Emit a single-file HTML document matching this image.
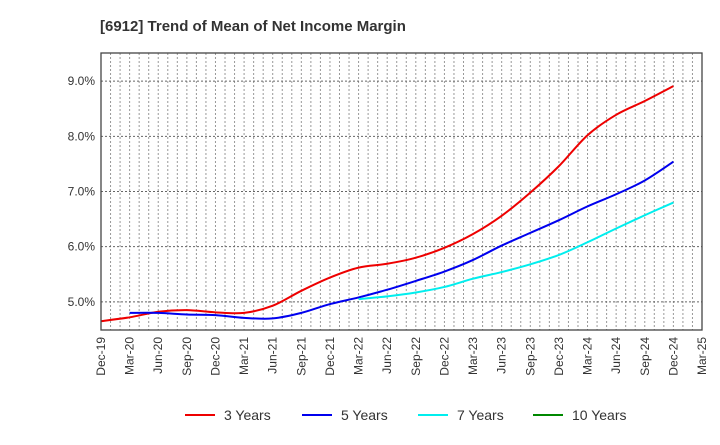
<!DOCTYPE html>
<html><head><meta charset="utf-8"><style>
body{margin:0;background:#fff;font-family:"Liberation Sans",sans-serif}
</style></head><body>
<svg width="720" height="440" xmlns="http://www.w3.org/2000/svg" id="chart">
<text x="100" y="31" font-size="15" font-weight="bold" fill="#333">[6912]  Trend of Mean of Net Income Margin</text>
<g id="grid"></g><g id="series"></g><g id="axes"></g><g id="legend"></g>
</svg>
<script>
const xLabels=["Dec-19","Mar-20","Jun-20","Sep-20","Dec-20","Mar-21","Jun-21","Sep-21","Dec-21","Mar-22","Jun-22","Sep-22","Dec-22","Mar-23","Jun-23","Sep-23","Dec-23","Mar-24","Jun-24","Sep-24","Dec-24","Mar-25"];
const yTicks=[5,6,7,8,9];
const s3=[4.65,4.72,4.82,4.85,4.81,4.80,4.93,5.20,5.44,5.62,5.69,5.80,5.98,6.23,6.56,6.98,7.46,8.02,8.39,8.64,8.91];
const s5=[null,4.80,4.80,4.77,4.76,4.71,4.70,4.80,4.96,5.08,5.22,5.38,5.55,5.76,6.02,6.25,6.48,6.73,6.95,7.20,7.54];
const s7=[null,null,null,null,null,null,null,null,null,5.05,5.10,5.17,5.27,5.42,5.54,5.68,5.85,6.08,6.33,6.57,6.80];
const s10=[];
const NS="http://www.w3.org/2000/svg";
const L=101,R=702,T=53,B=330,Y0=4.49,Y1=9.51;
const xq=i=>L+(R-L)*i/21;
const xm=m=>L+(R-L)*m/63;
const y=v=>B-(v-Y0)/(Y1-Y0)*(B-T);
function mk(t,a,p){const e=document.createElementNS(NS,t);for(const k in a)e.setAttribute(k,a[k]);p.appendChild(e);return e;}
const g=document.getElementById('grid'),ax=document.getElementById('axes'),se=document.getElementById('series'),lg=document.getElementById('legend');
for(let m=1;m<63;m++){const l=mk('line',{x1:xm(m),x2:xm(m),y1:T,y2:B,stroke:'#999','stroke-dasharray':'2,2','stroke-width':1},g);

}
yTicks.forEach(v=>{const l=mk('line',{x1:L,x2:R,y1:y(v),y2:y(v),stroke:'#666','stroke-dasharray':'2,2','stroke-width':1},g);


const t=mk('text',{x:L-6,y:y(v)+4,'text-anchor':'end','font-size':12,fill:'#333'},ax);t.textContent=v.toFixed(1)+'%';

});
const fr=mk('rect',{x:L,y:T,width:R-L,height:B-T,fill:'none',stroke:'#444','stroke-width':1.3},ax);


xLabels.forEach((s,i)=>{const t=mk('text',{x:0,y:0,'text-anchor':'end','font-size':12,fill:'#333',transform:`translate(${xq(i)+4},${B+7}) rotate(-90)`},ax);t.textContent=s;

});
function path(arr){const pts=[];arr.forEach((v,i)=>{if(v!=null)pts.push([xq(i),y(v)]);});if(!pts.length)return'';
let d=`M${pts[0][0]},${pts[0][1]}`;for(let i=0;i<pts.length-1;i++){const p0=pts[i-1]||pts[i],p1=pts[i],p2=pts[i+1],p3=pts[i+2]||p2;
d+=` C${p1[0]+(p2[0]-p0[0])/6},${p1[1]+(p2[1]-p0[1])/6} ${p2[0]-(p3[0]-p1[0])/6},${p2[1]-(p3[1]-p1[1])/6} ${p2[0]},${p2[1]}`;}return d;}
const series=[[s3,'#ee0000','3 Years',185],[s5,'#0000ee','5 Years',302],[s7,'#00eeee','7 Years',418],[s10,'#008800','10 Years',533]];
series.forEach(([a,c,n,lx])=>{const d=path(a);if(d){const p=mk('path',{d:d,fill:'none',stroke:c,'stroke-width':2},se);

}
const ll=mk('line',{x1:lx,x2:lx+30,y1:415,y2:415,stroke:c,'stroke-width':2},lg);


const t=mk('text',{x:lx+39,y:420,'font-size':14,fill:'#333'},lg);t.textContent=n;

});
</script>
</body></html>
